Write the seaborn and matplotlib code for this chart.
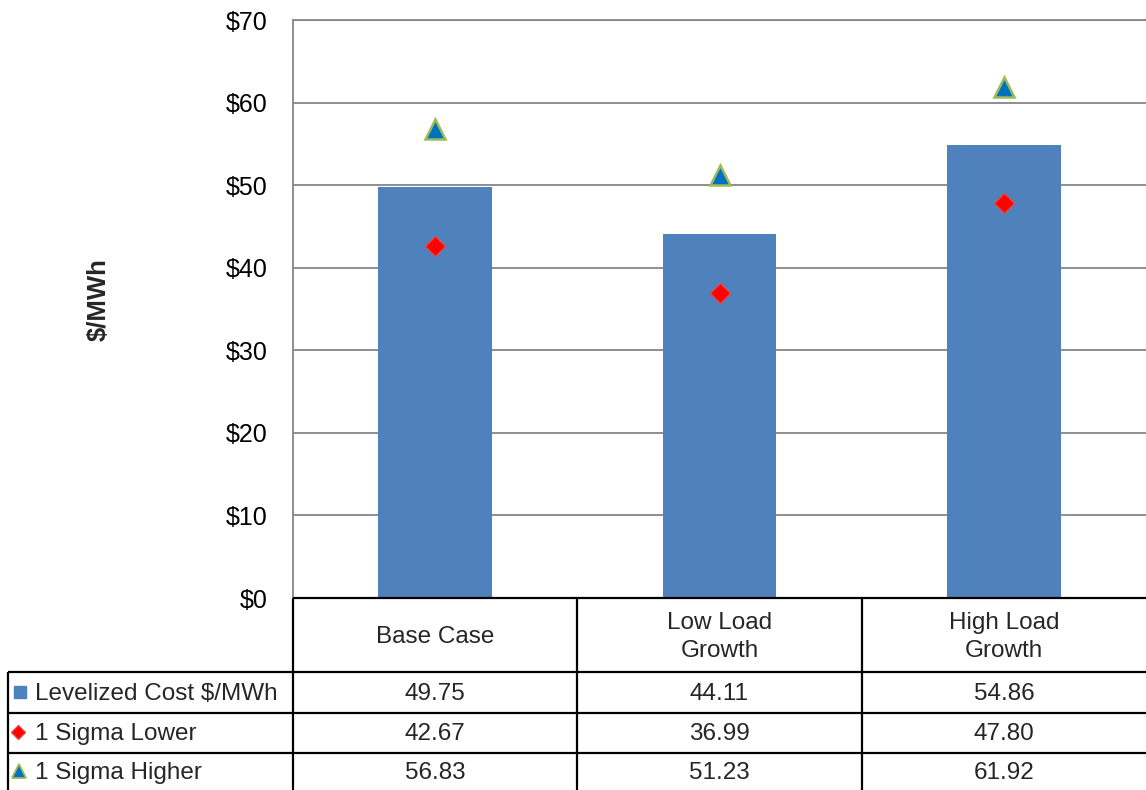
import numpy as np
import pandas as pd
import matplotlib
matplotlib.use("Agg")
import matplotlib.pyplot as plt
from matplotlib.ticker import FuncFormatter
import seaborn as sns

# ---- data -------------------------------------------------------------
scenarios = ["Base Case", "Low Load\nGrowth", "High Load\nGrowth"]
levelized_cost = [49.75, 44.11, 54.86]
sigma_lower = [42.67, 36.99, 47.80]
sigma_higher = [56.83, 51.23, 61.92]
series_names = ["Levelized Cost $/MWh", "1 Sigma Lower", "1 Sigma Higher"]
y_ticks = [0, 10, 20, 30, 40, 50, 60, 70]

BAR_BLUE = "#4F81BD"
GRID_GREY = "#868686"
FS = 17.5

sns.set_style("white")
plt.rcParams["font.family"] = ["Liberation Sans", "DejaVu Sans"]

W, H = 1146, 790
fig = plt.figure(figsize=(W / 100, H / 100), dpi=100)

# plot area in pixel units
left_px, right_px, top_px, bottom_px = 293, W, 20, 598
ax = fig.add_axes([left_px / W, (H - bottom_px) / H,
                   (right_px - left_px) / W, (bottom_px - top_px) / H])

df = pd.DataFrame({"scenario": scenarios, "cost": levelized_cost})
sns.barplot(data=df, x="scenario", y="cost", color=BAR_BLUE, saturation=1,
            width=0.4, linewidth=0, ax=ax, zorder=2)

xpos = np.arange(len(scenarios))
ax.plot(xpos, sigma_lower, linestyle="none", marker="D", ms=10.5,
        color="#FF0000", mec="#E5463F", mew=1, zorder=4)
ax.plot(xpos, sigma_higher, linestyle="none", marker="^", ms=15,
        mfc="#0070C0", mec="#9BBB59", mew=1.8, zorder=4)

ax.set_xlim(-0.5, len(scenarios) - 0.5)
ax.set_ylim(y_ticks[0], y_ticks[-1])
ax.set_yticks(y_ticks)
ax.yaxis.set_major_formatter(FuncFormatter(lambda v, _: f"${v:.0f}"))
ax.set_xticks([])
ax.set_xlabel("")
ax.set_ylabel("")
ax.tick_params(axis="y", length=0, pad=18, labelsize=18, labelcolor="black")
ax.yaxis.grid(True, color=GRID_GREY, linewidth=1.3)
ax.set_axisbelow(True)
for side in ("left", "top"):
    ax.spines[side].set_visible(True)
    ax.spines[side].set_color(GRID_GREY)
    ax.spines[side].set_linewidth(1.3)
ax.spines["right"].set_visible(False)
ax.spines["bottom"].set_visible(False)

fig.text(99 / W, 1 - 300 / H, "$/MWh", rotation=90, ha="center", va="center",
         fontsize=18.5, fontweight="bold")

# ---- data table beneath the plot --------------------------------------
tab = fig.add_axes([0, 0, 1, 1], facecolor="none")
tab.set_xlim(0, W)
tab.set_ylim(H, 0)
tab.axis("off")

col_w = (right_px - left_px) / len(scenarios)
col_edges = [left_px + i * col_w for i in range(len(scenarios) + 1)]
col_centers = [left_px + (i + 0.5) * col_w for i in range(len(scenarios))]
legend_left = 8
header_bottom = 672
row_edges = [672, 713, 753, H + 5]
line_kw = dict(color="black", linewidth=1.6, solid_capstyle="butt")

tab.plot([left_px, W], [bottom_px, bottom_px], **line_kw)
for y in row_edges[:-1]:
    tab.plot([legend_left, W], [y, y], **line_kw)
for x in col_edges[:-1]:
    tab.plot([x, x], [bottom_px, H], **line_kw)
tab.plot([legend_left, legend_left], [header_bottom, H], **line_kw)

for cx, name in zip(col_centers, scenarios):
    tab.text(cx, (bottom_px + header_bottom) / 2 + 2, name, ha="center",
             va="center", fontsize=FS, linespacing=1.32, multialignment="center")

rows = [levelized_cost, sigma_lower, sigma_higher]
row_centers = [(row_edges[i] + row_edges[i + 1]) / 2 + 1 for i in range(3)]
row_centers[-1] = 773
for rc, vals in zip(row_centers, rows):
    for cx, v in zip(col_centers, vals):
        tab.text(cx, rc, f"{v:.2f}", ha="center", va="center", fontsize=FS)

legend_markers = [
    dict(marker="s", ms=8, color=BAR_BLUE, mec=BAR_BLUE),
    dict(marker="D", ms=7, color="#FF0000", mec="#E5463F"),
    dict(marker="^", ms=10, mfc="#0070C0", mec="#9BBB59", mew=1.3),
]
marker_x = [20, 18, 19]
for rc, name, mk, mx in zip(row_centers, series_names, legend_markers, marker_x):
    tab.plot([mx], [rc - 2], linestyle="none", **mk)
    tab.text(35, rc, name, ha="left", va="center", fontsize=FS)

fig.savefig("out.png", dpi=100)
